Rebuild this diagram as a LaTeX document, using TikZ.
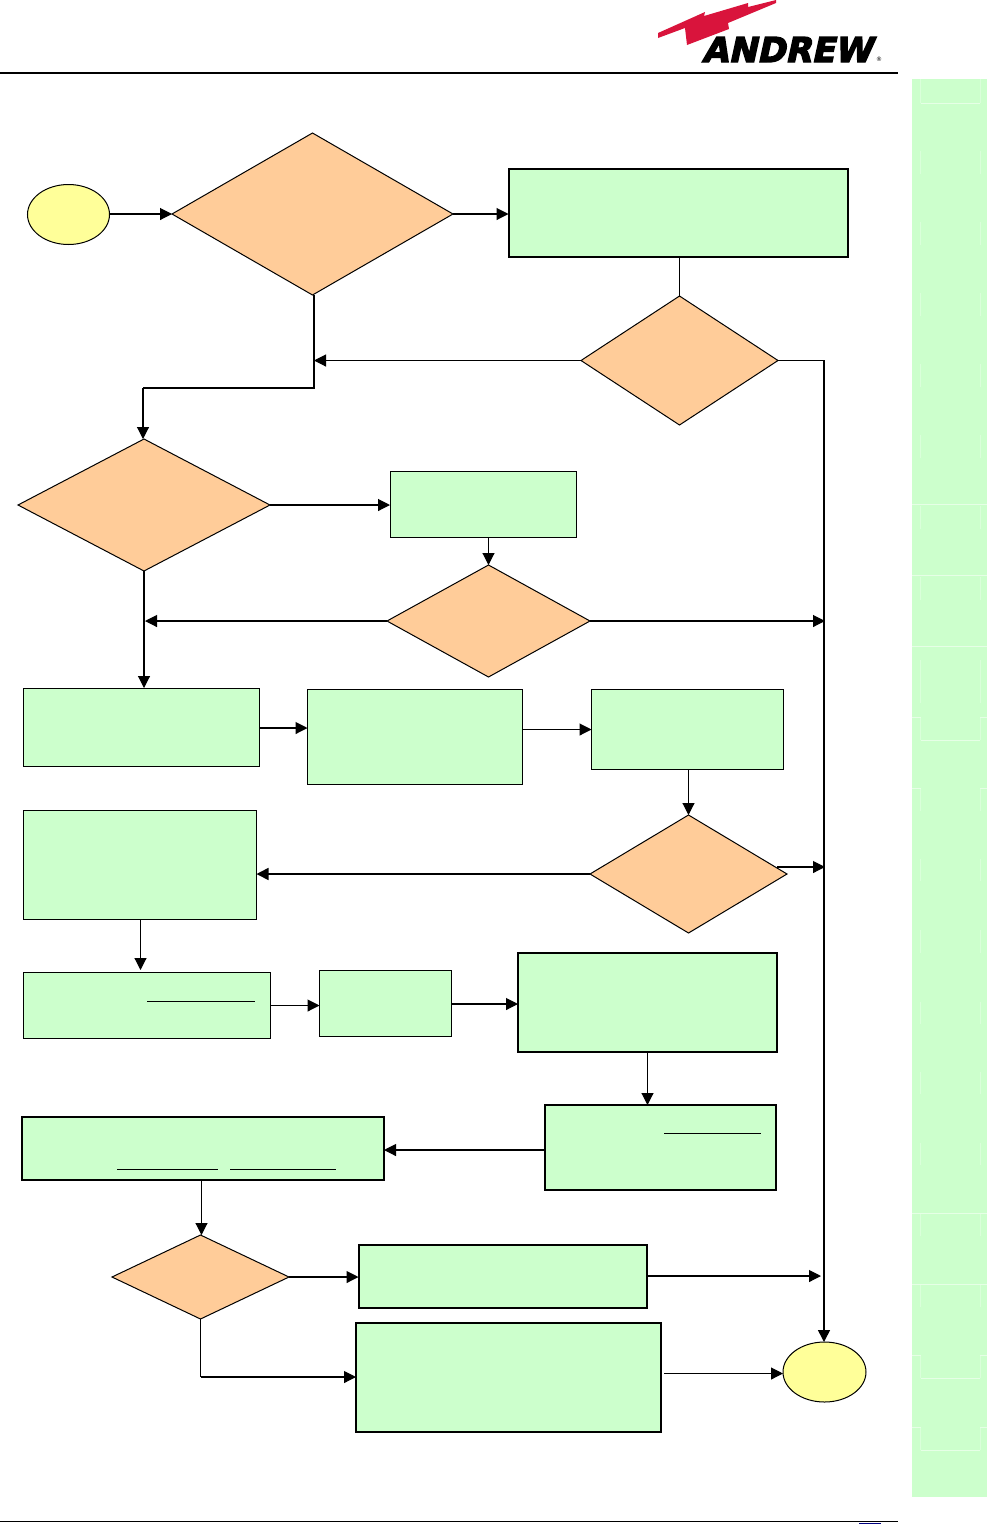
\documentclass[tikz,border=0pt]{standalone}
\usepackage{fontspec}
\setmainfont{DejaVu Sans}
\newfontfamily\logofont[FakeSlant=0.22,FakeBold=4]{DejaVu Sans Bold}
\usetikzlibrary{shapes.geometric,arrows.meta}
\definecolor{boxgreen}{HTML}{CCFFCC}
\definecolor{decorange}{HTML}{FFCC99}
\definecolor{termyellow}{HTML}{FFFF99}
\definecolor{sidefaint}{HTML}{E6FFE6}
\definecolor{sidetick}{HTML}{DAFFDA}
\definecolor{bolt}{HTML}{D9143C}
\definecolor{linkblue}{HTML}{000080}
\tikzset{
  x=1pt,y=-1pt,
  procbox/.style={draw=black,fill=boxgreen,rectangle,inner sep=0pt,outer sep=0pt,line width=1pt},
  thick box/.style={procbox,line width=2pt},
  decision/.style={draw=black,fill=decorange,diamond,inner sep=0pt,outer sep=0pt,line width=1pt},
  terminal/.style={draw=black,fill=termyellow,ellipse,inner sep=0pt,outer sep=0pt,line width=1pt},
  flow/.style={draw=black,line width=1.1pt,-{Triangle[length=12pt,width=12pt]}},
  plainflow/.style={draw=black,line width=1.1pt},
  faint/.style={draw=sidefaint,line width=0.8pt},
  fainttick/.style={draw=sidetick,line width=0.8pt},
  ruleline/.style={draw=black,line width=1pt},
}
\newcommand{\boxat}[6][procbox]{\node[#1,minimum width=#5pt-#3pt,minimum height=#6pt-#4pt] (#2) at ({(#3+#5)/2},{(#4+#6)/2}) {};}
\newcommand{\decat}[6]{\node[decision,minimum width=#5pt-#3pt,minimum height=#6pt-#4pt,aspect=#2] (#1) at ({(#3+#5)/2},{(#4+#6)/2}) {};}
\begin{document}
\begin{tikzpicture}
\useasboundingbox (0,0) rectangle (987,1524);
% sidebar
\fill[boxgreen] (912,79) rectangle (987,1497);
\foreach \a/\b in {151/174,222/245,293/316,364/387,435/458,506/529,577/600,660/703,717/740,788/811,859/881,930/953,1002/1024,1072/1094,1143/1165,1213/1236,1284/1307,1355/1378,1427/1450,79/103}{
  \draw[fainttick] (920.5,\a) -- (920.5,\b);
  \draw[fainttick] (980,\a) -- (980,\b);
}
\foreach \y in {504,575,646,1213,1284} \draw[faint] (912,\y) -- (987,\y);
\foreach \y in {717,788,1355,1427}{
  \draw[faint] (912,\y) -- (920.5,\y);
  \draw[faint] (980,\y) -- (987,\y);
}
\foreach \y in {103,740,1378,1450} \draw[faint] (920.5,\y) -- (980,\y);
% header and footer
\draw[ruleline,line width=2pt] (0,72.5) -- (898,72.5);
\draw[ruleline] (0,1521.5) -- (898,1521.5);
\draw[linkblue,line width=1pt] (859,1523) -- (881,1523);
% logo
\fill[bolt] (658,33) -- (705,12) -- (704,16) -- (748,3) -- (748,7) -- (776,0) -- (776,3)
  -- (728,23) -- (729,29) -- (687,45) -- (685,28) -- (658,38) -- cycle;
\node[inner sep=0pt,outer sep=0pt,anchor=center] (logotext) at (787,49.5)
  {\resizebox{170pt}{25pt}{\logofont ANDREW}};
\node[inner sep=0pt,outer sep=0pt,anchor=west] (logomark) at (876,59.5) {\fontsize{6}{6}\selectfont ®};
% terminals
\node[terminal,minimum width=82pt,minimum height=60pt] (start) at (68.5,214.5) {};
\node[terminal,minimum width=83pt,minimum height=60pt] (finish) at (824.5,1372) {};
% decisions
\decat{d1}{1.73}{172}{133}{453}{295}
\decat{d2}{1.53}{581}{296}{778}{425}
\decat{d3}{1.91}{18}{439}{270}{571}
\decat{d4}{1.81}{387}{565}{590}{677}
\decat{d5}{1.67}{590}{815}{787}{933}
\decat{d6}{2.11}{112}{1235}{289}{1319}
% boxes
\boxat[thick box]{r1}{508.5}{169}{848}{257}
\boxat{r2}{390}{471}{576}{537}
\boxat{r3}{23.5}{688}{259}{766}
\boxat{r4}{307.5}{689.5}{522}{784}
\boxat{r5}{591.5}{689.5}{783}{769}
\boxat{r6}{23.5}{810.5}{256.5}{919}
\boxat{r7}{23.5}{972.5}{270}{1038}
\boxat{r8}{319.5}{970.5}{451.5}{1036.5}
\boxat[thick box]{r9}{518}{953}{777}{1052}
\boxat[thick box]{r10}{545}{1105}{776}{1190}
\boxat[thick box]{r11}{22}{1117}{384}{1180}
\boxat[thick box]{r12}{358.5}{1245}{647}{1308}
\boxat[thick box]{r13}{356}{1323}{660.5}{1432}
% underlines inside boxes
\draw[draw=black,line width=1pt] (147,1001) -- (255,1001);
\draw[draw=black,line width=1pt] (117,1169) -- (218,1169);
\draw[draw=black,line width=1pt] (230,1169) -- (336,1169);
\draw[draw=black,line width=1pt] (664,1133) -- (761,1133);
% free ends
\coordinate (m1) at (314,361);
\coordinate (m2) at (314,388);
\coordinate (m3) at (143,388);
\coordinate (m4) at (824,361);
\coordinate (m5) at (145,620.5);
\coordinate (m6) at (825,621);
\coordinate (m7) at (825,867);
\coordinate (m8) at (821,1276);
\coordinate (m9) at (200.5,1377);
\coordinate (s1) at (777,867);
% connectors
\draw[flow] (start.east |- d1.west) -- (d1.west);
\draw[flow] (d1.east) -- (r1.west |- d1.east);
\draw[plainflow] (r1.south -| d2.north) -- (d2.north);
\draw[flow] (d2.west) -- (m1 |- d2.west);
\draw[plainflow] (m2 |- d1.south) -- (m2) -- (m3);
\draw[flow] (m3) -- (m3 |- d3.north);
\draw[flow,line width=1.5pt] (d2.east) -- (m4 |- d2.east) -- (m4 |- finish.north);
\draw[flow] (d3.east) -- (r2.west |- d3.east);
\draw[flow] (d4.north |- r2.south) -- (d4.north);
\draw[flow] (d4.west) -- (m5 |- d4.west);
\draw[flow] (d4.east) -- (m6 |- d4.east);
\draw[flow] (d3.south) -- (d3.south |- r3.north);
\draw[flow] (r3.east |- 0,728) -- (r4.west |- 0,728);
\draw[flow] (r4.east |- 0,729.5) -- (r5.west |- 0,729.5);
\draw[flow] (r5.south -| d5.north) -- (d5.north);
\draw[flow,line width=1.6pt] (d5.west) -- (r6.east |- d5.west);
\draw[flow] (s1) -- (m7);
\draw[flow] (140.5,919) -- (140.5,970);
\draw[flow] (r7.east |- 0,1005.5) -- (r8.west |- 0,1005.5);
\draw[flow] (r8.east |- 0,1004) -- (r9.west |- 0,1004);
\draw[flow] (647.5,1052) -- (647.5,1105);
\draw[flow] (r10.west |- 0,1150) -- (r11.east |- 0,1150);
\draw[flow] (201.5,1180) -- (201.5,1235);
\draw[flow] (d6.east) -- (r12.west |- d6.east);
\draw[plainflow] (d6.south -| m9) -- (m9);
\draw[flow] (m9) -- (r13.west |- m9);
\draw[flow] (r12.east |- m8) -- (m8);
\draw[flow] (664,1373.5) -- (finish.west |- 0,1373.5);
\end{tikzpicture}
\end{document}
